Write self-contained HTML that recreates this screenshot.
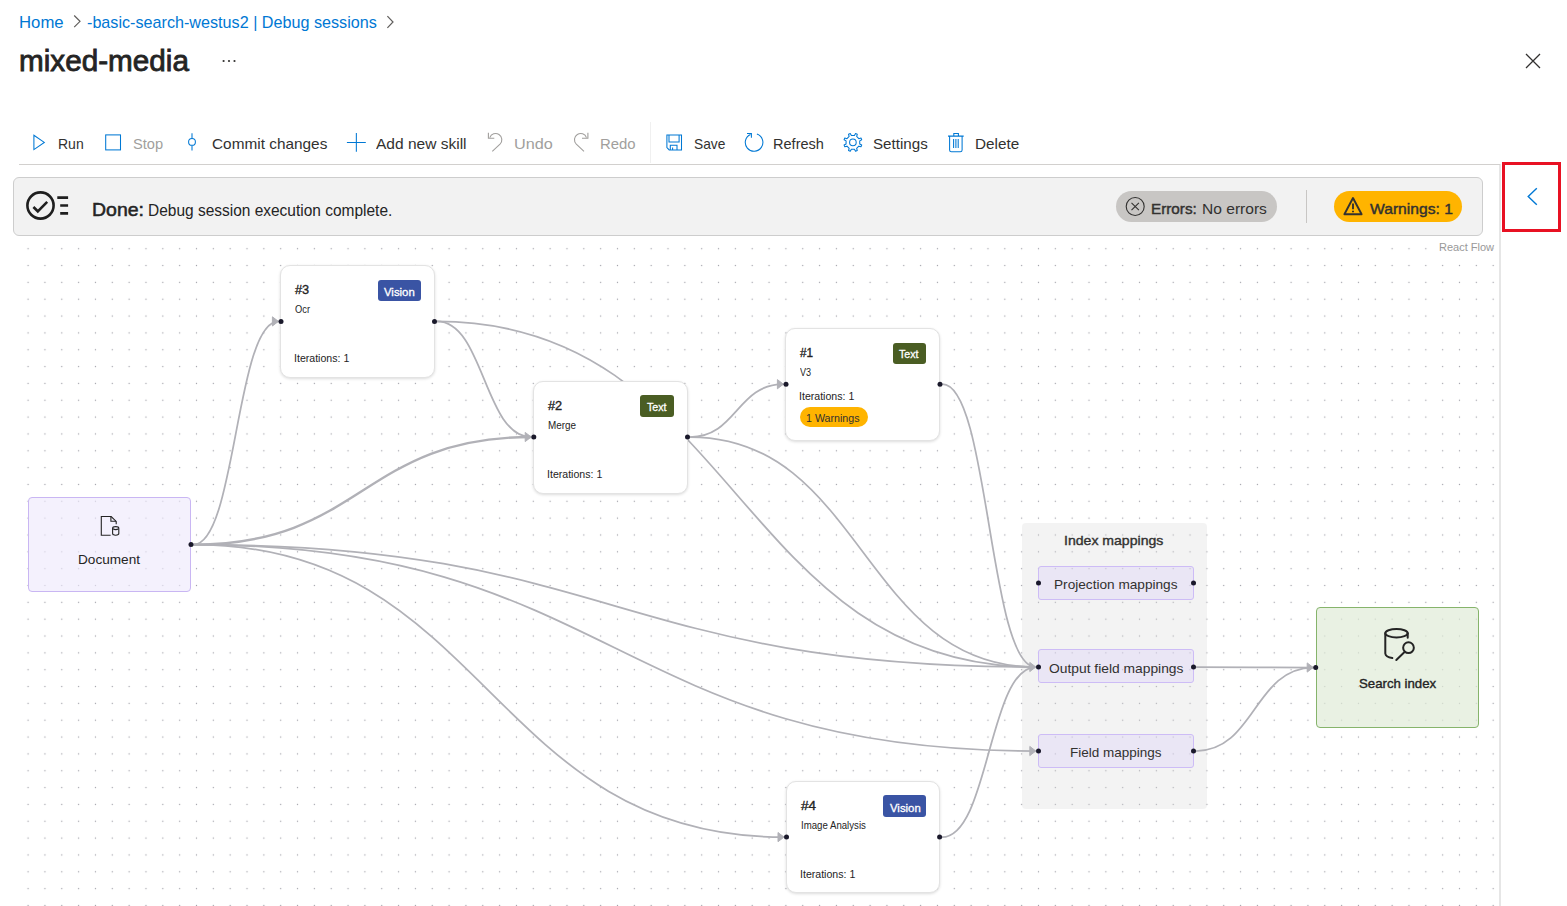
<!DOCTYPE html>
<html><head><meta charset="utf-8">
<style>
html,body{margin:0;padding:0;width:1567px;height:906px;overflow:hidden;background:#fff;font-family:"Liberation Sans",sans-serif;}
.t{position:absolute;white-space:nowrap;line-height:1;transform-origin:0 0;}
.abs{position:absolute;box-sizing:border-box;}
svg.full{position:absolute;left:0;top:0;width:1567px;height:906px;overflow:visible;}
</style></head><body>
<!-- canvas background dots -->
<svg class="full" viewBox="0 0 1567 906">
 <defs><pattern id="dots" patternUnits="userSpaceOnUse" x="19.68" y="4.52" width="16.84" height="16.84">
  <circle cx="8.42" cy="8.42" r="0.7" fill="#a2a2aa"/></pattern></defs>
 <rect x="13" y="236" width="1486" height="670" fill="url(#dots)"/>
 <rect x="1499" y="164" width="2" height="742" fill="#e6e6e6"/>
</svg>
<!-- group node -->
<div class="abs" style="left:1022px;top:523px;width:185.3px;height:286.2px;background:rgba(212,212,212,0.29);border-radius:4px;"></div>
<!-- edges -->
<svg class="full" viewBox="0 0 1567 906">
 <g fill="none" stroke="#b1b1b7" stroke-width="1.75">
<path d="M193.5,544.6 C235.9,544.6 235.9,321.4 278.4,321.4"/>
<path d="M193.5,544.6 C362.4,544.6 362.4,437.0 531.2,437.0" stroke-width="2.4"/>
<path d="M193.5,544.6 C614.6,544.6 614.6,667.0 1035.8,667.0"/>
<path d="M193.5,544.6 C614.6,544.6 614.6,751.0 1035.8,751.0"/>
<path d="M193.5,544.6 C488.8,544.6 488.8,837.1 784.0,837.1"/>
<path d="M437.0,321.4 C484.1,321.4 484.1,437.0 531.2,437.0"/>
<path d="M437.0,321.4 C736.4,321.4 736.4,667.0 1035.8,667.0"/>
<path d="M690.0,437.0 C736.7,437.0 736.7,384.2 783.4,384.2"/>
<path d="M690.0,437.0 C862.9,437.0 862.9,667.0 1035.8,667.0"/>
<path d="M942.4,384.2 C989.1,384.2 989.1,667.0 1035.8,667.0"/>
<path d="M942.0,837.1 C988.9,837.1 988.9,667.0 1035.8,667.0"/>
<path d="M1196.0,667.0 C1254.6,667.0 1254.6,667.5 1313.2,667.5"/>
<path d="M1196.0,751.0 C1254.6,751.0 1254.6,667.5 1313.2,667.5"/>
 </g>
 <g fill="#b1b1b7" stroke="#b1b1b7" stroke-width="1" stroke-linejoin="round">
<polygon points="1029.8,662.4 1035.8,667.0 1029.8,671.6"/>
<polygon points="1029.8,746.4 1035.8,751.0 1029.8,755.6"/>
<polygon points="777.4,379.6 783.4,384.2 777.4,388.8"/>
<polygon points="778.0,832.5 784.0,837.1 778.0,841.7"/>
<polygon points="525.2,432.4 531.2,437.0 525.2,441.6"/>
<polygon points="272.4,316.8 278.4,321.4 272.4,326.0"/>
<polygon points="1307.2,662.9 1313.2,667.5 1307.2,672.1"/>
 </g>
</svg>
<!-- skill nodes -->
<div class="abs" style="left:280.3px;top:265px;width:154.7px;height:112.8px;background:#fff;border:1px solid #e3e3e3;border-radius:10px;box-shadow:0 1px 3px rgba(0,0,0,0.14);"></div>
<div class="abs" style="left:533.1px;top:380.7px;width:154.9px;height:113px;background:#fff;border:1px solid #e3e3e3;border-radius:10px;box-shadow:0 1px 3px rgba(0,0,0,0.14);"></div>
<div class="abs" style="left:785.3px;top:327.8px;width:155.2px;height:113px;background:#fff;border:1px solid #e3e3e3;border-radius:10px;box-shadow:0 1px 3px rgba(0,0,0,0.14);"></div>
<div class="abs" style="left:785.9px;top:780.8px;width:154.4px;height:112.7px;background:#fff;border:1px solid #e3e3e3;border-radius:10px;box-shadow:0 1px 3px rgba(0,0,0,0.14);"></div>
<!-- badges -->
<div class="abs" style="left:377.6px;top:279.6px;width:43.2px;height:21.5px;background:#3a54a4;border-radius:3px;"></div>
<div class="abs" style="left:640.1px;top:395.1px;width:33.5px;height:21.8px;background:#4a5d23;border-radius:3px;"></div>
<div class="abs" style="left:892.7px;top:342.7px;width:33.4px;height:21.5px;background:#4a5d23;border-radius:3px;"></div>
<div class="abs" style="left:882.9px;top:795.2px;width:43.2px;height:21.6px;background:#3a54a4;border-radius:3px;"></div>
<div class="abs" style="left:799.9px;top:407.1px;width:68.1px;height:19.8px;background:#ffb400;border-radius:10px;"></div>
<!-- document node -->
<div class="abs" style="left:28px;top:496.8px;width:163.2px;height:95.2px;background:rgba(238,232,252,0.62);border:1.5px solid #c9b6f3;border-radius:4px;"></div>
<!-- mapping boxes -->
<div class="abs" style="left:1038.4px;top:565.5px;width:155.2px;height:34px;background:rgba(222,210,250,0.38);border:1.6px solid #cdbcf6;border-radius:3px;"></div>
<div class="abs" style="left:1038.4px;top:649.4px;width:155.2px;height:34px;background:rgba(222,210,250,0.38);border:1.6px solid #cdbcf6;border-radius:3px;"></div>
<div class="abs" style="left:1038.4px;top:733.6px;width:155.2px;height:34px;background:rgba(222,210,250,0.38);border:1.6px solid #cdbcf6;border-radius:3px;"></div>
<!-- search index -->
<div class="abs" style="left:1316px;top:607.4px;width:163.2px;height:120.4px;background:rgba(222,234,214,0.68);border:1.7px solid #86b46b;border-radius:4px;"></div>
<!-- node icons + handles -->
<svg class="full" viewBox="0 0 1567 906">
 <g fill="none" stroke="#242424" stroke-width="1.1">
  <path d="M110.6,535.3 H101.3 V516.5 H111.2 L116.2,521.4 V524.2"/>
  <path d="M110.9,516.7 V521.3 H116"/>
  <rect x="112.6" y="526.6" width="6.2" height="8.6" rx="3" ry="1.6"/>
  <path d="M112.8,528.8 Q115.7,530.4 118.6,528.8"/>
 </g>
 <g fill="none" stroke="#242424" stroke-width="2" stroke-linecap="round">
  <ellipse cx="1396.5" cy="633.2" rx="11.2" ry="4.2"/>
  <path d="M1385.3,633.2 V653.5 Q1385.6,657 1392.3,658"/>
  <path d="M1407.7,633.2 V637.8"/>
  <circle cx="1408.5" cy="647.7" r="5.35"/>
  <path d="M1404.3,652.2 L1396.3,660"/>
 </g>
 <g fill="#1a192b">
<circle cx="191.0" cy="544.6" r="2.5"/>
<circle cx="281.0" cy="321.4" r="2.5"/>
<circle cx="434.5" cy="321.4" r="2.5"/>
<circle cx="533.8" cy="437.0" r="2.5"/>
<circle cx="687.5" cy="437.0" r="2.5"/>
<circle cx="786.0" cy="384.2" r="2.5"/>
<circle cx="940.0" cy="384.2" r="2.5"/>
<circle cx="786.5" cy="837.1" r="2.5"/>
<circle cx="939.6" cy="837.1" r="2.5"/>
<circle cx="1038.5" cy="583.0" r="2.5"/>
<circle cx="1193.5" cy="583.0" r="2.5"/>
<circle cx="1038.5" cy="667.0" r="2.5"/>
<circle cx="1193.5" cy="667.0" r="2.5"/>
<circle cx="1038.5" cy="751.0" r="2.5"/>
<circle cx="1193.5" cy="751.0" r="2.5"/>
<circle cx="1315.7" cy="667.5" r="2.5"/>
 </g>
</svg>
<!-- banner -->
<div class="abs" style="left:13px;top:177px;width:1469.6px;height:58.6px;background:#f2f2f2;border:1px solid #cdcdcd;border-radius:6px;"></div>
<div class="abs" style="left:1115.8px;top:190.9px;width:161.2px;height:30.8px;background:#c8c6c4;border-radius:16px;"></div>
<div class="abs" style="left:1334px;top:190.9px;width:128px;height:30.8px;background:#ffb400;border-radius:16px;"></div>
<div class="abs" style="left:1305.9px;top:189.7px;width:1px;height:33.5px;background:#c8c6c4;"></div>
<div class="abs" style="left:1437px;top:240px;width:60px;height:14px;background:rgba(255,255,255,0.5);"></div>
<!-- header / toolbar / icons -->
<div class="abs" style="left:19px;top:164px;width:1481px;height:1.3px;background:#d2d0ce;"></div>
<div class="abs" style="left:650px;top:122px;width:1px;height:41px;background:#f0f0f0;"></div>
<div class="abs" style="left:1502px;top:162px;width:59px;height:70px;border:3px solid #e81123;"></div>
<svg class="full" viewBox="0 0 1567 906">
 <g fill="none" stroke="#605e5c" stroke-width="1.2">
  <path d="M74.2,15.5 L80,21.3 L74.2,27.1"/>
  <path d="M387.4,16.2 L393,22 L387.4,27.8"/>
 </g>
 <g fill="#323130"><circle cx="223.6" cy="61" r="1.1"/><circle cx="229" cy="61" r="1.1"/><circle cx="234.5" cy="61" r="1.1"/></g>
 <g fill="none" stroke="#0078d4" stroke-width="1.4"><path d="M1536.8,188.2 L1528.2,196.5 L1536.8,204.8"/></g>
 <g fill="none" stroke="#323130" stroke-width="1.3"><path d="M1526,54 L1540,68 M1540,54 L1526,68"/></g>
 <g fill="none" stroke="#0078d4" stroke-width="1.05">
  <path d="M33.9,135.2 L44.3,142.4 L33.9,149.6 Z"/>
  <rect x="105.7" y="134.9" width="14.8" height="15"/>
  <path d="M192,133.3 V138.3 M192,145.5 V150.6"/><circle cx="192" cy="141.9" r="3.4"/>
  <path d="M346.9,142.4 H365.8 M356.35,133 V151.8"/>
  <path d="M666.9,134.9 H681.5 V149.9 H669.2 L666.9,147.6 Z"/>
  <path d="M669,134.9 V142 H679.1 V134.9"/>
  <path d="M670.3,150 V145.3 H677 V150 M672.6,150 V147.4"/>
  <path d="M756.9,134.1 A8.8,8.8 0 1 1 750.5,134.4"/>
  <path d="M747,133.4 H751.4 V137.8"/>
  <path d="M854.43,135.57 L855.54,133.59 L857.27,134.30 L856.65,136.49 L858.81,138.65 L861.00,138.03 L861.71,139.76 L859.73,140.87 L859.73,143.93 L861.71,145.04 L861.00,146.77 L858.81,146.15 L856.65,148.31 L857.27,150.50 L855.54,151.21 L854.43,149.23 L851.37,149.23 L850.26,151.21 L848.53,150.50 L849.15,148.31 L846.99,146.15 L844.80,146.77 L844.09,145.04 L846.07,143.93 L846.07,140.87 L844.09,139.76 L844.80,138.03 L846.99,138.65 L849.15,136.49 L848.53,134.30 L850.26,133.59 L851.37,135.57Z" stroke-linejoin="round"/>
  <circle cx="852.9" cy="142.4" r="3.3"/>
  <path d="M948,136.1 H963.7 M953.8,135.8 V133.4 H958.4 V135.8"/>
  <path d="M949.6,136 V150 Q949.6,151.8 951.4,151.8 H960.3 Q962.1,151.8 962.1,150 V136"/>
  <path d="M953.6,139 V148 M955.9,139 V148 M958.2,139 V148"/>
 </g>
 <g fill="none" stroke="#a19f9d" stroke-width="1.1">
  <path d="M488.4,132.8 V138.3 H494.3"/>
  <path d="M489.8,137.6 A6.2,6.2 0 1 1 500.0,144.1 L492.3,151.3"/>
  <path d="M587.9,132.8 V138.3 H582"/>
  <path d="M586.5,137.6 A6.2,6.2 0 1 0 576.3,144.1 L584,151.3"/>
 </g>
 <g fill="none" stroke="#1f1f1f" stroke-width="2.6">
  <circle cx="40.5" cy="205.5" r="13.1"/>
  <path d="M33.4,207 L37.8,211.3 L47.2,201.9"/>
  <path d="M57.3,197.6 H68.1 M60.2,205.5 H68.1 M60.2,213.4 H68.1"/>
 </g>
 <g fill="none" stroke="#323130" stroke-width="1.1">
  <circle cx="1135.2" cy="206.5" r="9"/>
  <path d="M1131.5,202.8 L1138.9,210.2 M1138.9,202.8 L1131.5,210.2"/>
 </g>
 <g fill="none" stroke="#323130" stroke-width="1.9" stroke-linejoin="round">
  <path d="M1353,198 L1361.6,214.3 H1344.4 Z"/>
  <path d="M1353,203.5 V209.2 M1353,210.8 V212.3"/>
 </g>
</svg>
<span class="t" style="left:19.19px;top:15px;font-size:16.6px;font-weight:400;color:#0078d4;transform:scaleX(1.0085);">Home</span>
<span class="t" style="left:86.60px;top:15px;font-size:16.6px;font-weight:400;color:#0078d4;transform:scaleX(0.9738);">-basic-search-westus2 | Debug sessions</span>
<span class="t" style="left:19.19px;top:46px;font-size:29.5px;font-weight:400;color:#242424;transform:scaleX(1.0062);-webkit-text-stroke:0.83px #242424;">mixed-media</span>
<span class="t" style="left:58.14px;top:137px;font-size:14.6px;font-weight:400;color:#323130;transform:scaleX(0.9589);">Run</span>
<span class="t" style="left:133.00px;top:137px;font-size:14.6px;font-weight:400;color:#a19f9d;transform:scaleX(1.0032);">Stop</span>
<span class="t" style="left:212.20px;top:137px;font-size:14.6px;font-weight:400;color:#323130;transform:scaleX(1.0531);">Commit changes</span>
<span class="t" style="left:376.00px;top:137px;font-size:14.6px;font-weight:400;color:#323130;transform:scaleX(1.0633);">Add new skill</span>
<span class="t" style="left:513.69px;top:137px;font-size:14.6px;font-weight:400;color:#a19f9d;transform:scaleX(1.1134);">Undo</span>
<span class="t" style="left:599.98px;top:137px;font-size:14.6px;font-weight:400;color:#a19f9d;transform:scaleX(1.0216);">Redo</span>
<span class="t" style="left:693.50px;top:137px;font-size:14.6px;font-weight:400;color:#323130;transform:scaleX(0.9443);">Save</span>
<span class="t" style="left:772.90px;top:137px;font-size:14.6px;font-weight:400;color:#323130;transform:scaleX(0.9963);">Refresh</span>
<span class="t" style="left:872.90px;top:137px;font-size:14.6px;font-weight:400;color:#323130;transform:scaleX(1.0375);">Settings</span>
<span class="t" style="left:975.45px;top:137px;font-size:14.6px;font-weight:400;color:#323130;transform:scaleX(1.0470);">Delete</span>
<span class="t" style="left:91.95px;top:201px;font-size:18.5px;font-weight:400;color:#242424;transform:scaleX(1.0524);-webkit-text-stroke:0.52px #242424;">Done:</span>
<span class="t" style="left:148.11px;top:203px;font-size:15.6px;font-weight:400;color:#242424;transform:scaleX(0.9924);">Debug session execution complete.</span>
<span class="t" style="left:1150.89px;top:201px;font-size:15.2px;font-weight:400;color:#323130;transform:scaleX(1.0059);-webkit-text-stroke:0.43px #323130;">Errors:</span>
<span class="t" style="left:1201.97px;top:201px;font-size:15.2px;font-weight:400;color:#323130;transform:scaleX(1.0255);">No errors</span>
<span class="t" style="left:1369.70px;top:201px;font-size:15.2px;font-weight:400;color:#323130;transform:scaleX(1.0297);-webkit-text-stroke:0.43px #323130;">Warnings: 1</span>
<span class="t" style="left:1439.20px;top:242px;font-size:10.5px;font-weight:400;color:#999999;transform:scaleX(1.0485);">React Flow</span>
<span class="t" style="left:295.40px;top:284px;font-size:12.6px;font-weight:400;color:#242424;transform:scaleX(1.0140);-webkit-text-stroke:0.35px #242424;">#3</span>
<span class="t" style="left:295.40px;top:305px;font-size:10.0px;font-weight:400;color:#242424;transform:scaleX(0.9298);">Ocr</span>
<span class="t" style="left:294.44px;top:353px;font-size:11.0px;font-weight:400;color:#242424;transform:scaleX(0.9617);">Iterations: 1</span>
<span class="t" style="left:383.90px;top:286px;font-size:11.6px;font-weight:400;color:#ffffff;transform:scaleX(0.9800);-webkit-text-stroke:0.32px #ffffff;">Vision</span>
<span class="t" style="left:548.20px;top:400px;font-size:12.6px;font-weight:400;color:#242424;transform:scaleX(1.0140);-webkit-text-stroke:0.35px #242424;">#2</span>
<span class="t" style="left:548.20px;top:421px;font-size:10.0px;font-weight:400;color:#242424;transform:scaleX(0.9902);">Merge</span>
<span class="t" style="left:547.24px;top:469px;font-size:11.0px;font-weight:400;color:#242424;transform:scaleX(0.9617);">Iterations: 1</span>
<span class="t" style="left:647.20px;top:401px;font-size:11.6px;font-weight:400;color:#ffffff;transform:scaleX(0.9165);-webkit-text-stroke:0.32px #ffffff;">Text</span>
<span class="t" style="left:800.40px;top:347px;font-size:12.6px;font-weight:400;color:#242424;transform:scaleX(0.9283);-webkit-text-stroke:0.35px #242424;">#1</span>
<span class="t" style="left:800.40px;top:368px;font-size:10.0px;font-weight:400;color:#242424;transform:scaleX(0.9077);">V3</span>
<span class="t" style="left:799.44px;top:391px;font-size:11.0px;font-weight:400;color:#242424;transform:scaleX(0.9617);">Iterations: 1</span>
<span class="t" style="left:899.40px;top:348px;font-size:11.6px;font-weight:400;color:#ffffff;transform:scaleX(0.9165);-webkit-text-stroke:0.32px #ffffff;">Text</span>
<span class="t" style="left:801.00px;top:800px;font-size:12.6px;font-weight:400;color:#242424;transform:scaleX(1.0711);-webkit-text-stroke:0.35px #242424;">#4</span>
<span class="t" style="left:801.00px;top:821px;font-size:10.0px;font-weight:400;color:#242424;transform:scaleX(0.9645);">Image Analysis</span>
<span class="t" style="left:800.04px;top:869px;font-size:11.0px;font-weight:400;color:#242424;transform:scaleX(0.9617);">Iterations: 1</span>
<span class="t" style="left:889.50px;top:802px;font-size:11.6px;font-weight:400;color:#ffffff;transform:scaleX(0.9800);-webkit-text-stroke:0.32px #ffffff;">Vision</span>
<span class="t" style="left:806.40px;top:413px;font-size:10.6px;font-weight:400;color:#323130;transform:scaleX(1.0059);">1 Warnings</span>
<span class="t" style="left:77.84px;top:554px;font-size:12.8px;font-weight:400;color:#242424;transform:scaleX(1.0629);">Document</span>
<span class="t" style="left:1064.30px;top:535px;font-size:12.8px;font-weight:400;color:#323130;transform:scaleX(1.0995);-webkit-text-stroke:0.36px #323130;">Index mappings</span>
<span class="t" style="left:1053.93px;top:579px;font-size:12.8px;font-weight:400;color:#323130;transform:scaleX(1.0651);">Projection mappings</span>
<span class="t" style="left:1049.00px;top:663px;font-size:12.8px;font-weight:400;color:#323130;transform:scaleX(1.0799);">Output field mappings</span>
<span class="t" style="left:1069.95px;top:747px;font-size:12.8px;font-weight:400;color:#323130;transform:scaleX(1.0541);">Field mappings</span>
<span class="t" style="left:1358.80px;top:678px;font-size:12.8px;font-weight:400;color:#242424;transform:scaleX(1.0333);-webkit-text-stroke:0.36px #242424;">Search index</span>
</body></html>
